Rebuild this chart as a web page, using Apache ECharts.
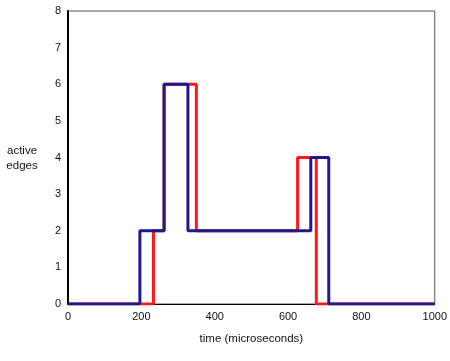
<!DOCTYPE html>
<html><head><meta charset="utf-8">
<script src="https://cdn.jsdelivr.net/npm/echarts@6/dist/echarts.min.js"></script>
<style>html,body{margin:0;padding:0;background:#fff}#c{width:450px;height:361px}</style>
</head><body><div id="c"></div>
<script>
const redTimes = [0, 233, 262, 350, 626, 677, 1000];
const redValues = [0, 2, 6, 2, 4, 0, 0];
const blueTimes = [0, 196, 262, 327, 662, 711, 1000];
const blueValues = [0, 2, 6, 2, 4, 0, 0];
const xTicks = [0, 200, 400, 600, 800, 1000];
const yTicks = [0, 1, 2, 3, 4, 5, 6, 7, 8];

const chart = echarts.init(document.getElementById('c'), null, {renderer: 'canvas'});
const font = 'Liberation Sans';
chart.setOption({
  animation: false,
  grid: {left: 68, right: 14, top: 11, bottom: 57, show: true, borderColor: '#555', borderWidth: 1, backgroundColor: 'transparent'},
  xAxis: {
    type: 'value', min: xTicks[0], max: xTicks[xTicks.length - 1], interval: 200,
    name: 'time (microseconds)', nameLocation: 'middle', nameGap: 29,
    nameTextStyle: {fontFamily: font, fontSize: 11.5, color: '#111'},
    axisLine: {show: true, lineStyle: {color: '#000', width: 1}},
    axisTick: {show: false}, splitLine: {show: false},
    axisLabel: {fontFamily: font, fontSize: 11, color: '#111', margin: 7, formatter: v => String(v)}
  },
  yAxis: {
    type: 'value', min: yTicks[0], max: yTicks[yTicks.length - 1], interval: 1,
    axisLine: {show: true, lineStyle: {color: '#000', width: 2}},
    axisTick: {show: false}, splitLine: {show: false},
    axisLabel: {fontFamily: font, fontSize: 11, color: '#111', margin: 7, formatter: v => String(v)}
  },
  graphic: [{type: 'text', style: {x: 22, y: 143, text: 'active\nedges', fontFamily: font, fontSize: 11.5, fill: '#111', align: 'center', verticalAlign: 'top', lineHeight: 15}}],
  series: [
    {type: 'line', step: 'end', symbol: 'none', data: redTimes.map((t, i) => [t, redValues[i]]), lineStyle: {color: '#ff1a1a', width: 3}, z: 2},
    {type: 'line', step: 'end', symbol: 'none', data: blueTimes.map((t, i) => [t, blueValues[i]]), lineStyle: {color: '#1c1a8c', width: 3}, z: 3}
  ]
});
</script></body></html>
